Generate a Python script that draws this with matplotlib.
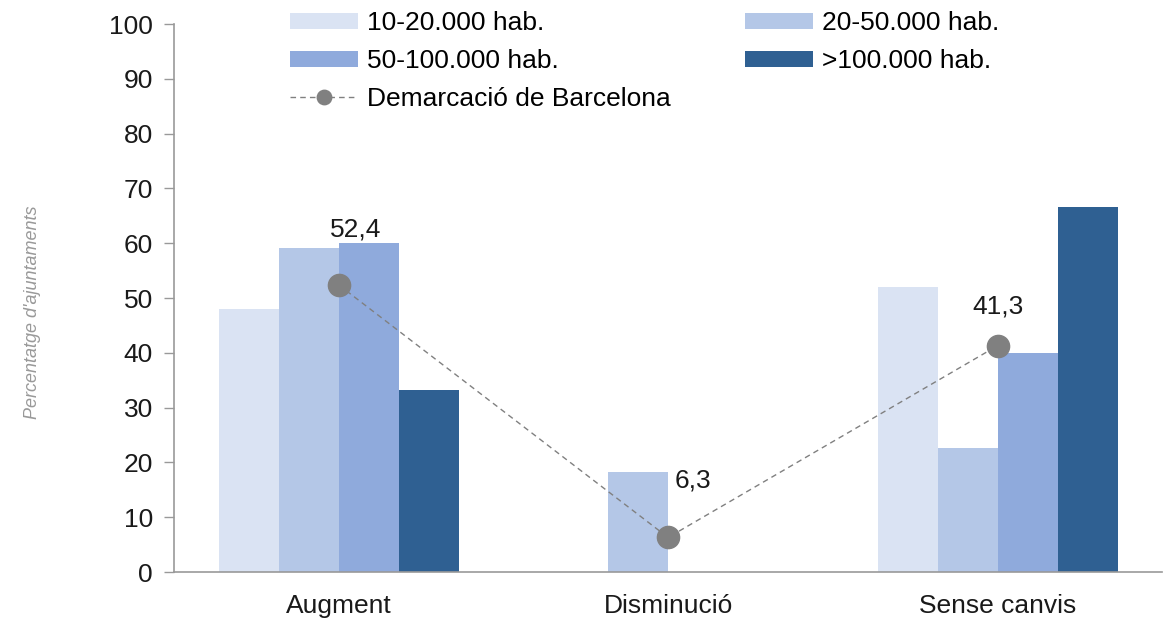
import matplotlib.pyplot as plt
import numpy as np

plt.rcParams['font.family'] = ['Liberation Sans', 'DejaVu Sans']

categories = ['Augment', 'Disminució', 'Sense canvis']
series = ['10-20.000 hab.', '20-50.000 hab.', '50-100.000 hab.', '>100.000 hab.']
values = [
    [48.0, 0, 52.0],
    [59.2, 18.3, 22.7],
    [60.0, 0, 40.0],
    [33.3, 0, 66.7],
]
colors = ['#dae3f3', '#b4c7e7', '#8faadc', '#2f6092']
demarcacio = [52.4, 6.3, 41.3]
demarcacio_labels = ['52,4', '6,3', '41,3']

fig = plt.figure(figsize=(11.67, 6.24), dpi=100)
ax = fig.add_axes([0.149, 0.0833, 0.847, 0.8782])

x = np.arange(len(categories))
w = 0.182
bars = []
for i, (name, vals, c) in enumerate(zip(series, values, colors)):
    b = ax.bar(x + (i - 1.5) * w, vals, w, color=c, label=name, zorder=2)
    bars.append(b)

line, = ax.plot(x, demarcacio, color='#808080', lw=1, ls=(0, (4, 3)),
                marker='o', markersize=16, label='Demarcació de Barcelona', zorder=3)

offsets = [(12, 40), (18, 41), (0, 28)]
for xi, v, lab, off in zip(x, demarcacio, demarcacio_labels, offsets):
    ax.annotate(lab, (xi, v), xytext=off, textcoords='offset points',
                ha='center', va='center', fontsize=19, color='#1a1a1a')

ax.set_xlim(-0.5, 2.5)
ax.set_ylim(0, 100)
ax.set_yticks(range(0, 101, 10))
ax.set_xticks(x)
ax.set_xticklabels(categories)
ax.tick_params(axis='x', length=0, labelsize=19, pad=16, colors='#1a1a1a')
ax.tick_params(axis='y', length=7, width=1, color='#999999', labelsize=19, pad=8, labelcolor='#1a1a1a')
for s in ['top', 'right']:
    ax.spines[s].set_visible(False)
for s in ['left', 'bottom']:
    ax.spines[s].set_color('#999999')
    ax.spines[s].set_linewidth(1.2)

fig.text(0.028, 0.5, "Percentatge d'ajuntaments", rotation=90, style='italic',
         color='#999999', fontsize=13, ha='center', va='center')

handles = [bars[0], bars[2], line, bars[1], bars[3]]
labels = [series[0], series[2], 'Demarcació de Barcelona', series[1], series[3]]
fig.legend(handles, labels, ncol=2, loc='upper left', bbox_to_anchor=(0.228, 1.02),
           frameon=False, fontsize=19, handlelength=2.58, handleheight=0.6,
           handletextpad=0.34, columnspacing=2.8, labelspacing=0.53, markerscale=0.65)

plt.savefig('out.png', dpi=100)
plt.close()
